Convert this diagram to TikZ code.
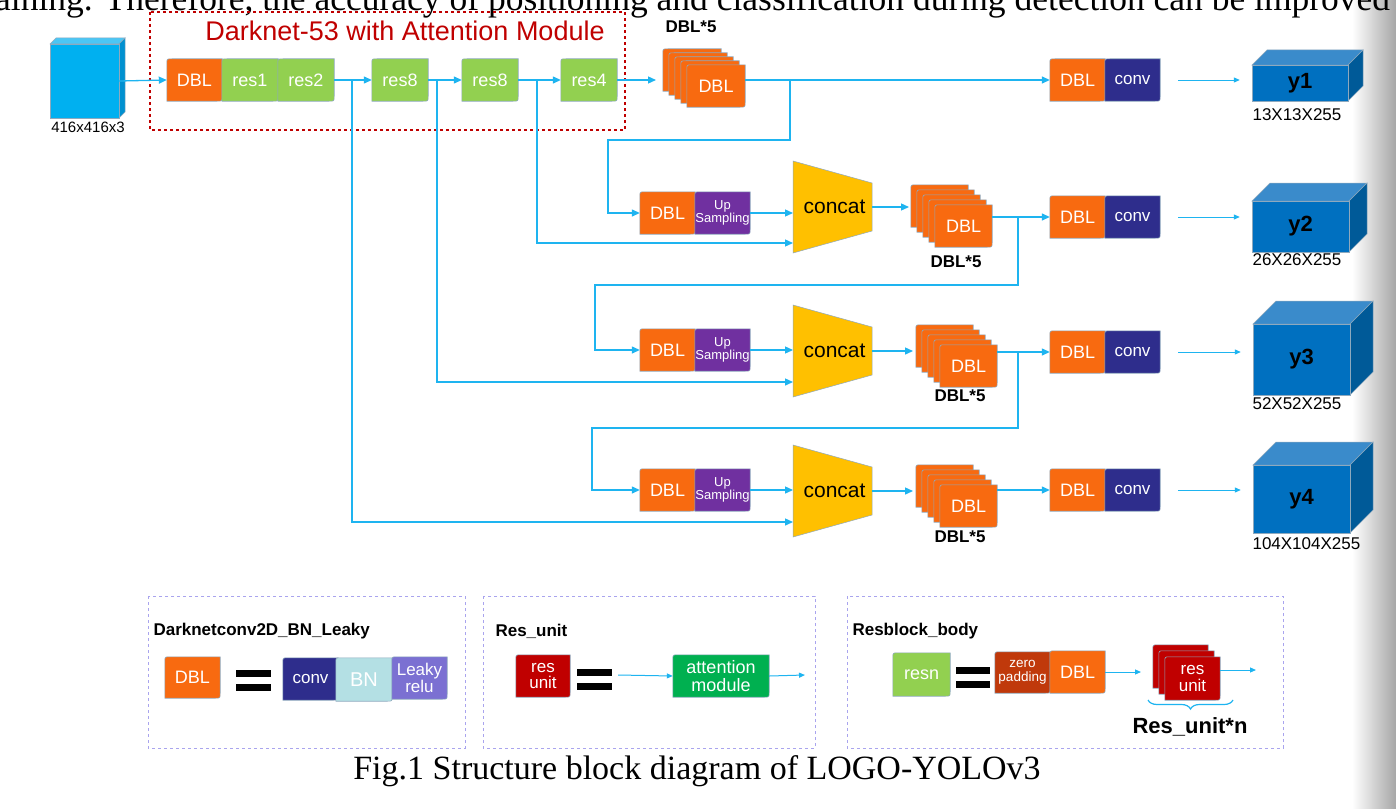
\documentclass[tikz,border=0pt]{standalone}
\usepackage{fontspec}
\setmainfont{Liberation Sans}
\newfontfamily\serifx{Liberation Serif}
\usetikzlibrary{calc,arrows.meta,decorations.pathreplacing,fit}
\pgfdeclarelayer{bg}
\pgfsetlayers{bg,main}
\newcommand\fsz[1]{\fontsize{#1}{#1}\selectfont}
\newcommand\fszb[1]{\fontsize{#1}{\dimexpr #1pt*6/5\relax}\selectfont}
\definecolor{dorange}{HTML}{F86A10}
\definecolor{rgreen}{HTML}{92D050}
\definecolor{navy}{HTML}{2E2D8C}
\definecolor{upurple}{HTML}{7030A0}
\definecolor{concatc}{HTML}{FFC000}
\definecolor{cfront}{HTML}{0070C0}
\definecolor{ctop}{HTML}{3A8BCB}
\definecolor{cside}{HTML}{005A98}
\definecolor{ifront}{HTML}{00B0F0}
\definecolor{itop}{HTML}{4CC6F4}
\definecolor{iside}{HTML}{0090D0}
\definecolor{dred}{HTML}{C00000}
\definecolor{attgreen}{HTML}{00B050}
\definecolor{bnc}{HTML}{B4E0E4}
\definecolor{leaky}{HTML}{7B70D2}
\definecolor{zpad}{HTML}{C0390B}
\definecolor{lc}{HTML}{1EB4F0}
\definecolor{lav}{HTML}{A9A4EE}
\definecolor{edgec}{HTML}{8EA9BE}
% round-diagonal box: name, x1, y1, x2, y2, fill, font size, text
\newcommand\rbox[8]{%
  \node[minimum width={(#4-#2)*1pt}, minimum height={(#5-#3)*1pt}, inner sep=0pt, text=white, align=center, font=\fszb{#7}] (#1) at ({(#2+#4)/2},{(#3+#5)/2}) {#8};
  \begin{pgfonlayer}{bg}
  \filldraw[fill=#6, draw=edgec, line width=0.6pt] (#1.south west) -- ($(#1.north west)+(0,5)$) .. controls (#1.north west) .. ($(#1.north west)+(5,0)$) -- (#1.north east) -- ($(#1.south east)+(0,-5)$) .. controls (#1.south east) .. ($(#1.south east)+(-5,0)$) -- cycle;
  \end{pgfonlayer}}
% cube: name, x1, y1, x2, y2, depth, front, top, side
\newcommand\cubex[9]{%
  \filldraw[fill=#8, draw=edgec, line width=0.5pt] (#2,#3) -- ({#2+#6},{#3-#6}) -- ({#4+#6},{#3-#6}) -- (#4,#3) -- cycle;
  \filldraw[fill=#9, draw=edgec, line width=0.5pt] (#4,#3) -- ({#4+#6},{#3-#6}) -- ({#4+#6},{#5-#6}) -- (#4,#5) -- cycle;
  \filldraw[fill=#7, draw=edgec, line width=0.5pt] (#2,#3) rectangle (#4,#5);
  \node[fit={(#2,#3) (#4,#5)}, inner sep=0pt] (#1) {};}
% concat trapezoid: name, x1, x2, ycenter
\newcommand\concatx[4]{%
  \filldraw[fill=concatc, draw=edgec, line width=0.5pt] (#2,{#4-46}) -- (#3,{#4-24}) -- (#3,{#4+24}) -- (#2,{#4+46}) -- cycle;
  \node[font=\fsz{21}] (#1) at ({(#2+#3)/2+2},#4) {concat};}
\begin{document}
\begin{tikzpicture}[x=1pt,y=-1pt,
  ln/.style={draw=lc, line width=1.3pt},
  ar/.style={ln, -{Triangle[length=8pt,width=7pt]}},
  sar/.style={draw=lc, line width=1pt, -{Triangle[length=6pt,width=5pt]}},
  lbl/.style={font=\bfseries\fsz{17}},
  dim/.style={font=\fsz{17}, anchor=west},
  legend/.style={draw=lav, dashed, line width=1pt},
  ltitle/.style={font=\bfseries\fsz{17}, anchor=west}]
\clip (0,0) rectangle (1396,808);
\useasboundingbox (0,0) rectangle (1396,808);
\begin{pgfonlayer}{bg}
\fill[white] (0,0) rectangle (1396,808);
\shade[left color=white, right color=black!35] (1352,0) rectangle (1396,808);
\end{pgfonlayer}
% clipped line of running text
\node[font=\serifx\fsz{35.5}, anchor=base west, inner sep=0pt] (runtext) at (-5,11) {aining. Therefore, the accuracy of positioning and classification during detection can be improved};

% Darknet box
\draw[dred, dashed, line width=1.4pt] (150,12) rectangle (625,130);
\node[text=dred, font=\fsz{27}] (dtitle) at (405,31) {Darknet-53 with Attention Module};

% input cube
\cubex{inp}{50}{44}{119}{118}{6}{ifront}{itop}{iside}
\node[font=\fsz{15}] (inplbl) at (88,127) {416x416x3};

% backbone
\rbox{d0}{167}{59}{222}{101}{dorange}{18}{DBL}
\rbox{r1}{222}{59}{278}{101}{rgreen}{18}{res1}
\rbox{r2}{278}{59}{334}{101}{rgreen}{18}{res2}
\rbox{r8a}{372}{59}{428}{101}{rgreen}{18}{res8}
\rbox{r8b}{462}{59}{518}{101}{rgreen}{18}{res8}
\rbox{r4}{561}{59}{617}{101}{rgreen}{18}{res4}

% stack 1
\rbox{s1e}{663}{49}{721}{91}{dorange}{18}{}
\rbox{s1d}{669}{53}{727}{95}{dorange}{18}{}
\rbox{s1c}{675}{57}{733}{99}{dorange}{18}{}
\rbox{s1b}{681}{61}{739}{103}{dorange}{18}{}
\rbox{s1}{687}{65}{745}{107}{dorange}{18}{DBL}
\node[lbl] (s1lbl) at (691,27) {DBL*5};

% outputs column
\rbox{o1}{1050}{59}{1105}{101}{dorange}{18}{DBL}
\rbox{c1}{1105}{59}{1160}{101}{navy}{17}{conv}
\rbox{o2}{1050}{196}{1105}{238}{dorange}{18}{DBL}
\rbox{c2}{1105}{196}{1160}{238}{navy}{17}{conv}
\rbox{o3}{1050}{331}{1105}{373}{dorange}{18}{DBL}
\rbox{c3}{1105}{331}{1160}{373}{navy}{17}{conv}
\rbox{o4}{1050}{469}{1105}{511}{dorange}{18}{DBL}
\rbox{c4}{1105}{469}{1160}{511}{navy}{17}{conv}

% upsampling rows
\rbox{u1d}{640}{192}{695}{234}{dorange}{18}{DBL}
\rbox{u1u}{695}{192}{750}{234}{upurple}{13}{Up\\[-2pt]Sampling}
\rbox{u2d}{640}{329}{695}{371}{dorange}{18}{DBL}
\rbox{u2u}{695}{329}{750}{371}{upurple}{13}{Up\\[-2pt]Sampling}
\rbox{u3d}{640}{469}{695}{511}{dorange}{18}{DBL}
\rbox{u3u}{695}{469}{750}{511}{upurple}{13}{Up\\[-2pt]Sampling}

% concat blocks
\concatx{cc1}{793}{872}{207}
\concatx{cc2}{793}{872}{351}
\concatx{cc3}{793}{872}{491}

% stacks 2-4
\rbox{s2e}{911}{185}{968}{227}{dorange}{18}{}
\rbox{s2d}{917}{190}{974}{232}{dorange}{18}{}
\rbox{s2c}{923}{195}{980}{237}{dorange}{18}{}
\rbox{s2b}{929}{200}{986}{242}{dorange}{18}{}
\rbox{s2}{935}{205}{992}{247}{dorange}{18}{DBL}
\node[lbl] (s2lbl) at (956,262) {DBL*5};
\rbox{s3e}{916}{325}{973}{367}{dorange}{18}{}
\rbox{s3d}{922}{330}{979}{372}{dorange}{18}{}
\rbox{s3c}{928}{335}{985}{377}{dorange}{18}{}
\rbox{s3b}{934}{340}{991}{382}{dorange}{18}{}
\rbox{s3}{940}{345}{997}{387}{dorange}{18}{DBL}
\node[lbl] (s3lbl) at (960,396) {DBL*5};
\rbox{s4e}{916}{465}{973}{507}{dorange}{18}{}
\rbox{s4d}{922}{470}{979}{512}{dorange}{18}{}
\rbox{s4c}{928}{475}{985}{517}{dorange}{18}{}
\rbox{s4b}{934}{480}{991}{522}{dorange}{18}{}
\rbox{s4}{940}{485}{997}{527}{dorange}{18}{DBL}
\node[lbl] (s4lbl) at (960,537) {DBL*5};

% output cubes
\cubex{y1}{1252}{65}{1348}{101}{15}{cfront}{ctop}{cside}
\node[font=\bfseries\fsz{22}] (y1t) at (y1) {y1};
\node[dim] (y1l) at (1249,115) {13X13X255};
\cubex{y2}{1252}{201}{1349}{252}{18}{cfront}{ctop}{cside}
\node[font=\bfseries\fsz{22}] (y2t) at (y2) {y2};
\node[dim] (y2l) at (1249,260) {26X26X255};
\cubex{y3}{1253}{324}{1350}{395}{23}{cfront}{ctop}{cside}
\node[font=\bfseries\fsz{22}] (y3t) at (y3) {y3};
\node[dim] (y3l) at (1249,404) {52X52X255};
\cubex{y4}{1253}{465}{1350}{533}{23}{cfront}{ctop}{cside}
\node[font=\bfseries\fsz{22}] (y4t) at (y4) {y4};
\node[dim] (y4l) at (1249,544) {104X104X255};

% coordinates
\coordinate (b1) at (352,80);
\coordinate (b2) at (437,80);
\coordinate (b3) at (537,80);
\coordinate (b4) at (790,80);
\coordinate (b5) at (1018,217);
\coordinate (b6) at (1018,352);
\coordinate (s1in) at (656,80);
\coordinate (s2in) at (909,207);
\coordinate (s3in) at (913,351);
\coordinate (s4in) at (913,491);
\coordinate (cc1a) at (793,213);
\coordinate (cc1b) at (793,243);
\coordinate (cc2a) at (793,350);
\coordinate (cc2b) at (793,382);
\coordinate (cc3a) at (793,490);
\coordinate (cc3b) at (793,522);

% connectors backbone
\draw[ar] (inp.east) -- (d0.west);
\draw[ar] (r2.east) -- (r8a.west);
\draw[ar] (r8a.east) -- (r8b.west);
\draw[ar] (r8b.east) -- (r4.west);
\draw[ar] (r4.east) -- (s1in);
\draw[ar] (s1.east |- 0,80) -- (o1.west);
\draw[ar] (b1) |- (cc3b);
\draw[ar] (b2) |- (cc2b);
\draw[ar] (b3) |- (cc1b);
\draw[ar] (b4) -- (790,140) -| (608,213) -- (u1d.west);
\draw[ar] (u1u.east) -- (cc1a);
\draw[ar] (872,207) -- (s2in);
\draw[ar] (s2.east |- 0,217) -- (o2.west);
\draw[ar] (b5) -- (1018,285) -| (595,350) -- (u2d.west);
\draw[ar] (u2u.east) -- (cc2a);
\draw[ar] (872,351) -- (s3in);
\draw[ar] (s3.east |- 0,352) -- (o3.west);
\draw[ar] (b6) -- (1018,428) -| (592,490) -- (u3d.west);
\draw[ar] (u3u.east) -- (cc3a);
\draw[ar] (872,491) -- (s4in);
\draw[ar] (s4.east |- 0,490) -- (o4.west);

% conv -> output
\draw[sar] ($(c1.east)+(18,0)$) -- ($(y1.west |- c1.east)+(-12,0)$);
\draw[sar] ($(c2.east)+(18,0)$) -- ($(y2.west |- c2.east)+(-12,0)$);
\draw[sar] ($(c3.east)+(18,0)$) -- ($(y3.west |- c3.east)+(-12,0)$);
\draw[sar] ($(c4.east)+(18,0)$) -- ($(y4.west |- c4.east)+(-12,0)$);

% ---------- legends ----------
\draw[legend] (148,596) rectangle (465,748);
\node[ltitle] (lt1) at (150,631) {Darknetconv2D\_BN\_Leaky};
\rbox{ld}{165}{657}{220}{698}{dorange}{18}{DBL}
\fill[black] (236,670) rectangle (271,677);
\fill[black] (236,684) rectangle (271,691);
\rbox{lconv}{283}{658}{338}{700}{navy}{17}{conv}
\rbox{lbn}{336}{658}{392}{701}{bnc}{20}{BN}
\rbox{lleaky}{392}{657}{447}{699}{leaky}{17}{Leaky\\[-4pt]relu}

\draw[legend] (483,596) rectangle (815,748);
\node[ltitle] (lt2) at (492,631) {Res\_unit};
\rbox{lru}{516}{655}{570}{697}{dred}{17}{res\\[-4pt]unit}
\fill[black] (577,669) rectangle (612,676);
\fill[black] (577,683) rectangle (612,690);
\coordinate (eq2) at (618,675);
\rbox{latt}{673}{655}{769}{697}{attgreen}{18}{attention\\[-4pt]module}
\coordinate (att2) at (805,675);
\draw[sar] (eq2) -- (latt.west);
\draw[sar] (latt.east) -- (att2);

\draw[legend] (847,596) rectangle (1283,748);
\node[ltitle] (lt3) at (849,631) {Resblock\_body};
\rbox{lresn}{893}{653}{950}{696}{rgreen}{18}{resn}
\fill[black] (956,667) rectangle (990,674);
\fill[black] (956,681) rectangle (990,688);
\rbox{lzp}{995}{652}{1050}{693}{zpad}{13.5}{zero\\[-2pt]padding}
\rbox{ldbl}{1050}{651}{1105}{693}{dorange}{18}{DBL}
\rbox{lrc}{1153}{645}{1208}{688}{dred}{17}{}
\rbox{lrb}{1159}{651}{1214}{694}{dred}{17}{}
\rbox{lra}{1165}{657}{1220}{700}{dred}{17}{res\\[-4pt]unit}
\coordinate (lrin) at (1141,672);
\coordinate (lrout) at (1256,670);
\draw[sar] (ldbl.east) -- (lrin);
\draw[sar] (lra.east |- lrout) -- (lrout);
\draw[draw=lc, line width=1.2pt, decorate, decoration={brace, amplitude=9pt}] (1233,700) -- (1148,700);
\node[font=\bfseries\fsz{22}] (lrn) at (1190,727) {Res\_unit*n};

% caption
\node[font=\serifx\fsz{34}] (cap) at (697,771) {Fig.1 Structure block diagram of LOGO-YOLOv3};
\end{tikzpicture}
\end{document}
